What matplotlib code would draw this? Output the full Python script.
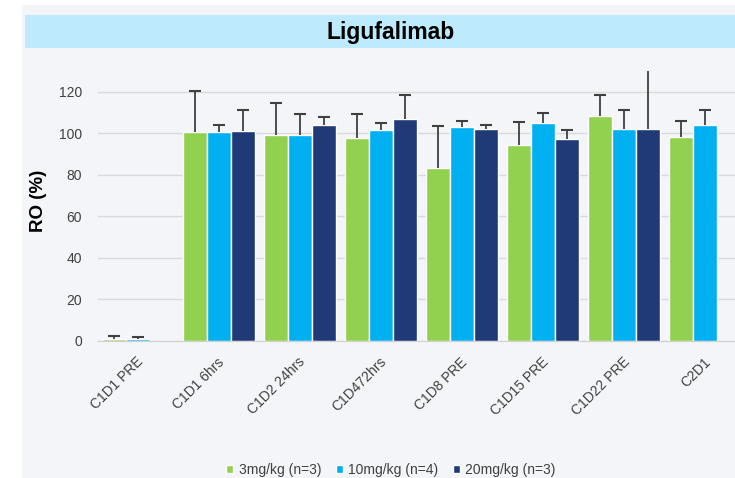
import numpy as np
import matplotlib
matplotlib.use("Agg")
import matplotlib.pyplot as plt
import matplotlib.transforms as mtransforms
from matplotlib.patches import Rectangle

plt.rcParams['font.family'] = ['Liberation Sans', 'DejaVu Sans']

categories = ["C1D1 PRE", "C1D1 6hrs", "C1D2 24hrs", "C1D472hrs",
              "C1D8 PRE", "C1D15 PRE", "C1D22 PRE", "C2D1"]
series_names = ["3mg/kg (n=3)", "10mg/kg (n=4)", "20mg/kg (n=3)"]

# mean RO (%) per dose group; None = no bar
ro_3 = [1.0, 100.6, 99.4, 97.8, 83.5, 94.5, 108.3, 98.3]
ro_10 = [1.0, 100.6, 99.4, 101.7, 102.8, 105.1, 102.2, 103.8]
ro_20 = [None, 101.2, 103.8, 107.1, 102.2, 97.3, 102.2, None]

# upper error (SD)
err_3 = [1.2, 20.0, 15.1, 11.4, 20.1, 10.9, 10.2, 7.4]
err_10 = [1.0, 3.5, 9.8, 3.2, 2.9, 4.6, 9.1, 7.5]
err_20 = [None, 10.1, 4.2, 11.4, 1.9, 4.1, 33.0, None]

colors = ["#92D050", "#00B0F0", "#203A78"]

fig = plt.figure(figsize=(7.35, 4.78), dpi=100)
fig.patch.set_facecolor("white")

# panel background and title band
fig.patches.append(Rectangle((22 / 735, 0), 1, 1 - 5 / 478, transform=fig.transFigure,
                             facecolor="#F4F5F9", edgecolor="none", zorder=-2))
fig.patches.append(Rectangle((25 / 735, 1 - 48 / 478), 1, 33 / 478, transform=fig.transFigure,
                             facecolor="#BDEBFD", edgecolor="none", zorder=-1))
fig.text(391 / 735, 1 - 32 / 478, "Ligufalimab", ha="center", va="center",
         fontsize=16.5, fontweight="bold", color="black")

ax = fig.add_axes([97.5 / 735, 137 / 478, 648.5 / 735, 270 / 478])
ax.set_facecolor("#F4F5F9")

x = np.arange(len(categories))
w = 0.296
all_vals = [ro_3, ro_10, ro_20]
all_errs = [err_3, err_10, err_20]
for k in range(3):
    xs, ys, tops = [], [], []
    for i in range(len(categories)):
        if all_vals[k][i] is None:
            continue
        xs.append(x[i] + (k - 1) * w)
        ys.append(all_vals[k][i])
        tops.append(all_vals[k][i] + all_errs[k][i])
    ax.bar(xs, ys, width=w, color=colors[k], edgecolor="white", linewidth=1,
           label=series_names[k], zorder=2)
    # plus-only error bars
    ax.vlines(xs, ys, tops, color="#404040", linewidth=1.3, zorder=3)
    ax.plot(xs, tops, linestyle="none", marker="_", markersize=8, markeredgewidth=1.5,
            color="#404040", zorder=3)

ax.set_xlim(-0.5, len(categories) - 0.5)
ax.set_ylim(0, 130)
ax.set_yticks(range(0, 121, 20))
ax.yaxis.grid(True, color="#D9D9D9", linewidth=1)
ax.set_axisbelow(True)
for s in ["top", "right", "left"]:
    ax.spines[s].set_visible(False)
ax.spines["bottom"].set_color("#D0D0D0")
ax.tick_params(axis="both", length=0, colors="#404040", labelsize=10)
ax.tick_params(axis="y", pad=11)
ax.set_xticks(x)
ax.set_xticklabels(categories, rotation=45, ha="right", rotation_mode="anchor", fontsize=10)
ax.tick_params(axis="x", pad=10)
shift = mtransforms.ScaledTranslation(-2 / 100, 0, fig.dpi_scale_trans)
for lab in ax.get_xticklabels():
    lab.set_transform(lab.get_transform() + shift)

ax.set_ylabel("RO (%)", fontsize=13.5, fontweight="bold", color="black")
ax.yaxis.set_label_coords(-0.078, 0.52)

fig.legend(loc="center", bbox_to_anchor=(391 / 735, 1 - 470 / 478), ncol=3, frameon=False,
           fontsize=10, handlelength=0.5, handleheight=0.5, handletextpad=0.4,
           columnspacing=1.05, labelcolor="#404040")

fig.savefig("out.png", dpi=100)
